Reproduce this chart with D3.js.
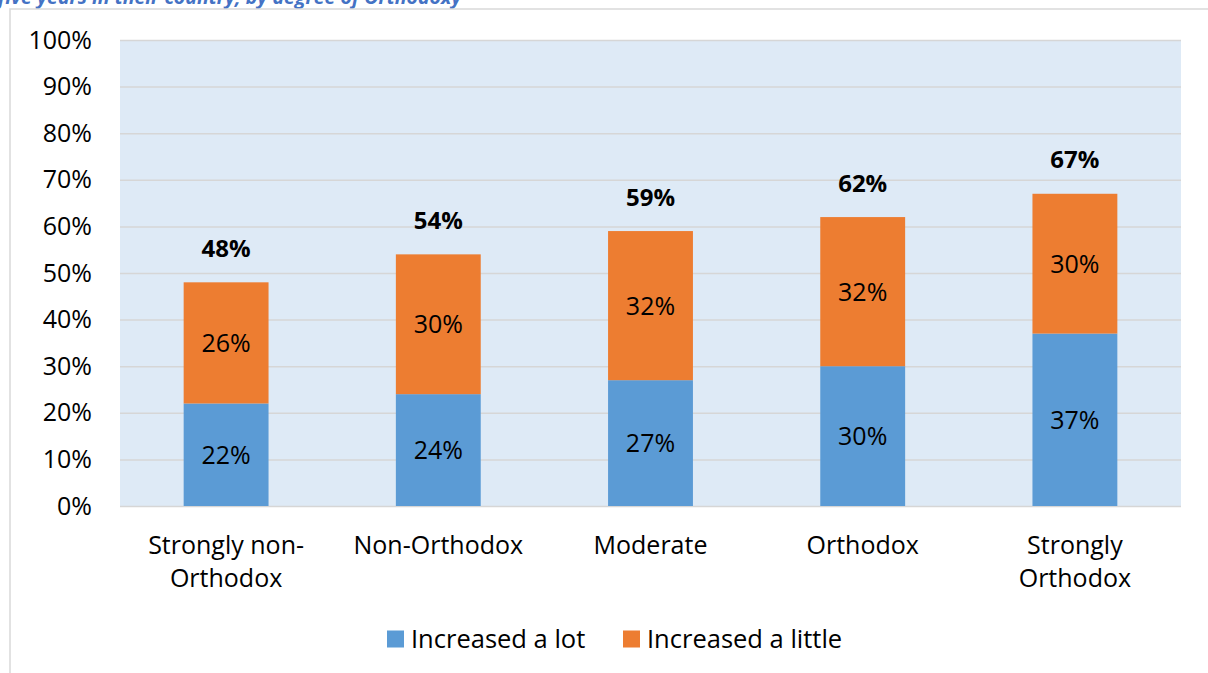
<!DOCTYPE html>
<html lang="en">
<head>
<meta charset="utf-8" />
<title>Orthodoxy chart</title>
<script src="https://d3js.org/d3.v7.min.js"></script>
<style>
  body { margin: 0; background: #ffffff; }
  text { font-family: "Open Sans", sans-serif; fill: #000; }
</style>
</head>
<body>
<div id="chart"></div>
<script>
// data
var categories = [["Strongly non-", "Orthodox"], ["Non-Orthodox"], ["Moderate"], ["Orthodox"], ["Strongly", "Orthodox"]];
var increasedLot = [22, 24, 27, 30, 37];
var increasedLittle = [26, 30, 32, 32, 30];
var totals = [48, 54, 59, 62, 67];
var yTicks = [0, 10, 20, 30, 40, 50, 60, 70, 80, 90, 100];
var seriesNames = ["Increased a lot", "Increased a little"];
var seriesColors = ["#5b9bd5", "#ed7d31"];

var width = 1208, height = 673;
// plot area edges ("top" is taken by window.top, so use other names)
var plotLeft = 120, plotRight = 1181, plotTop = 40, plotBottom = 506;

var svg = d3.select("#chart").append("svg")
    .attr("width", width)
    .attr("height", height);

// cut-off title at the very top
svg.append("text")
    .attr("x", -2)
    .attr("y", 4)
    .style("font-size", "19.5px")
    .style("font-weight", "bold")
    .style("font-style", "italic")
    .style("fill", "#4472c4")
    .text("five years in their country, by degree of Orthodoxy");

// chart frame
svg.append("rect")
    .attr("x", 10).attr("y", 9)
    .attr("width", 1300).attr("height", 700)
    .attr("fill", "none")
    .attr("stroke", "#d9d9d9")
    .attr("stroke-width", 1.5);

var idx = d3.range(categories.length);

var x = d3.scaleBand()
    .domain(idx)
    .range([plotLeft, plotRight])
    .paddingInner(0.6)
    .paddingOuter(0.3);

var y = d3.scaleLinear()
    .domain([0, 100])
    .range([plotBottom, plotTop]);

// plot background
svg.append("rect")
    .attr("x", plotLeft).attr("y", plotTop)
    .attr("width", plotRight - plotLeft).attr("height", plotBottom - plotTop)
    .attr("fill", "#deeaf6");

// gridlines + tick labels using an axis
var yAxis = d3.axisLeft(y)
    .tickValues(yTicks)
    .tickSize(-(plotRight - plotLeft))
    .tickPadding(28)
    .tickFormat(function(d){ return d + "%"; });

var gy = svg.append("g")
    .attr("transform", "translate(" + plotLeft + ",0)")
    .call(yAxis);
gy.select(".domain").remove();
gy.selectAll("line").attr("stroke", "#d6d6d6").attr("stroke-width", 1.5);
gy.selectAll("text")
    .style("font-size", "25px")
    .style("font-family", "'Open Sans', sans-serif")
    .attr("fill", "#000");

// stacked bars
var stackData = idx.map(function(i){
    return { i: i, lot: increasedLot[i], little: increasedLittle[i] };
});
var stacked = d3.stack().keys(["lot", "little"])(stackData);

var layers = svg.selectAll("g.layer")
    .data(stacked)
    .enter().append("g")
    .attr("class", "layer");

layers.selectAll("rect")
    .data(function(d){ return d; })
    .enter().append("rect")
    .attr("x", function(d){ return x(d.data.i); })
    .attr("y", function(d){ return y(d[1]); })
    .attr("width", x.bandwidth())
    .attr("height", function(d){ return y(d[0]) - y(d[1]); })
    .attr("fill", function(){ return seriesColors[d3.select(this.parentNode).datum().index]; });

// segment labels
layers.selectAll("text")
    .data(function(d){ return d; })
    .enter().append("text")
    .attr("x", function(d){ return x(d.data.i) + x.bandwidth() / 2; })
    .attr("y", function(d){ return (y(d[0]) + y(d[1])) / 2; })
    .attr("dy", "0.36em")
    .attr("text-anchor", "middle")
    .style("font-size", "25px")
    .text(function(d){ return (d[1] - d[0]) + "%"; });

// totals above bars
svg.selectAll("text.total")
    .data(idx)
    .enter().append("text")
    .attr("class", "total")
    .attr("x", function(i){ return x(i) + x.bandwidth() / 2; })
    .attr("y", function(i){ return y(totals[i]) - 34; })
    .attr("dy", "0.36em")
    .attr("text-anchor", "middle")
    .style("font-size", "24px")
    .style("font-weight", "bold")
    .text(function(i){ return totals[i] + "%"; });

// category labels
var cat = svg.selectAll("text.cat")
    .data(idx)
    .enter().append("text")
    .attr("class", "cat")
    .attr("text-anchor", "middle")
    .style("font-size", "25px");
cat.selectAll("tspan")
    .data(function(i){ return categories[i].map(function(s){ return { i: i, s: s }; }); })
    .enter().append("tspan")
    .attr("x", function(d){ return x(d.i) + x.bandwidth() / 2; })
    .attr("y", function(d, k){ return 545 + k * 33; })
    .attr("dy", "0.36em")
    .text(function(d){ return d.s; });

// legend
var legendX = [387, 623];
var legend = svg.selectAll("g.legend")
    .data(seriesNames)
    .enter().append("g")
    .attr("class", "legend")
    .attr("transform", function(d, k){ return "translate(" + legendX[k] + ",639)"; });
legend.append("rect")
    .attr("x", 0).attr("y", -8.5)
    .attr("width", 17).attr("height", 17)
    .attr("fill", function(d, k){ return seriesColors[k]; });
legend.append("text")
    .attr("x", 24)
    .attr("dy", "0.36em")
    .style("font-size", "25.5px")
    .text(function(d){ return d; });
</script>
</body>
</html>
